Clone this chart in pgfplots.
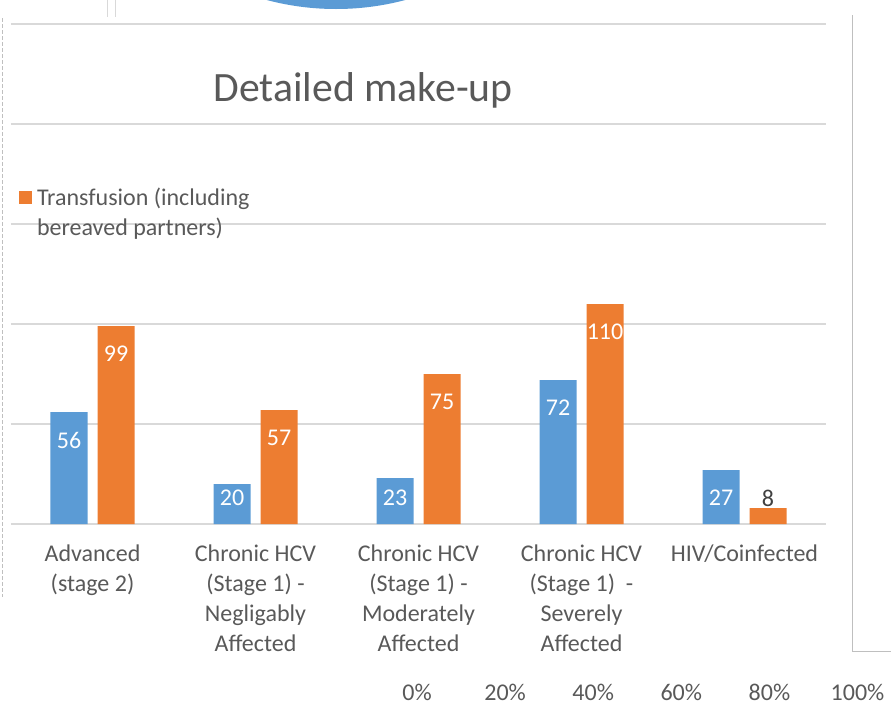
\documentclass[border=0pt]{standalone}
\usepackage{pgfplots}
\pgfplotsset{compat=1.18}
\usepackage{fontspec}
\setmainfont{Carlito}
\definecolor{cblue}{HTML}{5B9BD5}
\definecolor{corange}{HTML}{ED7D31}
\definecolor{cgrid}{HTML}{D9D9D9}
\definecolor{ctext}{HTML}{595959}
\definecolor{cdark}{HTML}{404040}
\definecolor{cframe}{HTML}{BFBFBF}
\begin{document}
\begin{tikzpicture}
\path[use as bounding box] (0,0) rectangle (668.25pt,-533.25pt);
\begin{scope}
\clip (0,0) rectangle (668.25pt,-533.25pt);
\fill[cblue] (252pt,195pt) circle (201.75pt);
\end{scope}
\draw[cframe, line width=0.75pt, dash pattern=on 3pt off 1.5pt] (1.5pt,-13.5pt) -- (1.5pt,-447.75pt);
\draw[cframe, line width=0.75pt] (639pt,-11.25pt) -- (639pt,-488.25pt) -- (668.25pt,-488.25pt);
\draw[cgrid, line width=0.75pt] (80.25pt,0) -- (80.25pt,-12.75pt);
\draw[cgrid, line width=0.75pt] (86.25pt,0) -- (86.25pt,-12.75pt);
\begin{axis}[
 at={(8.25pt,-393pt)}, anchor=south west,
 width=611.25pt, height=375pt, scale only axis,
 xmin=-0.5, xmax=4.5, ymin=0, ymax=250,
 ytick={0,50,...,250}, yticklabels={},
 ymajorgrids, grid style={cgrid, line width=1.5pt},
 axis line style={draw=none}, major tick length=0pt,
 xtick={0,...,4},
 xticklabels={{Advanced\\(stage 2)},{Chronic HCV\\(Stage 1) -\\Negligably\\Affected},{Chronic HCV\\(Stage 1) -\\Moderately\\Affected},{Chronic HCV\\(Stage 1)\ \ -\\Severely\\Affected},{HIV/Coinfected}},
 xticklabel style={align=center, font=\fontsize{18}{22.5}\selectfont, text=ctext, anchor=north, yshift=-11.75pt},
 ybar, bar width=27.75pt,
 clip=false,
 nodes near coords,
 visualization depends on={y \as \rawy},
 every node near coord/.append style={anchor=center, yshift={1.5*max(-14,13-\rawy)}, font=\fontsize{18}{22}\selectfont,
   /utils/exec={\pgfmathparse{\rawy<10}\ifdim\pgfmathresult pt>0.5pt \def\lblcol{cdark}\else\def\lblcol{white}\fi},
   text=\lblcol},
 /pgf/number format/assume math mode=true,
 title={Detailed make-up},
 title style={at={(axis description cs:0.432,0.852)}, anchor=center, font=\fontsize{31.3}{36}\selectfont, text=ctext},
 legend style={at={(axis description cs:0.0095,0.678)}, anchor=north west, draw=none, fill=none, font=\fontsize{18}{22.5}\selectfont, text=ctext, cells={align=left, anchor=west}, inner sep=0pt, /tikz/column sep=1.5pt},
]
\addplot[fill=cblue, draw=none, bar shift=-17.625pt, forget plot] coordinates {(0,56) (1,20) (2,23) (3,72) (4,27)};
\addplot[fill=corange, draw=none, bar shift=17.625pt,
  legend image code/.code={\path (0pt,-16.25pt); \fill[corange] (0pt,6.25pt) rectangle (10pt,16.25pt);}]
  coordinates {(0,99) (1,57) (2,75) (3,110) (4,8)};
\addlegendentry{Transfusion (including\\bereaved partners)}
\end{axis}
\begin{axis}[
 at={(312.75pt,-509.25pt)}, anchor=south west,
 width=330.375pt, height=10pt, scale only axis,
 xmin=0, xmax=100, ymin=0, ymax=1,
 xtick={0,20,...,100}, ytick=\empty,
 xticklabel={\pgfmathprintnumber{\tick}\%},
 /pgf/number format/assume math mode=true,
 axis line style={draw=none}, major tick length=0pt,
 xticklabel style={font=\fontsize{18}{22.5}\selectfont, text=ctext},
]
\end{axis}
\end{tikzpicture}
\end{document}
